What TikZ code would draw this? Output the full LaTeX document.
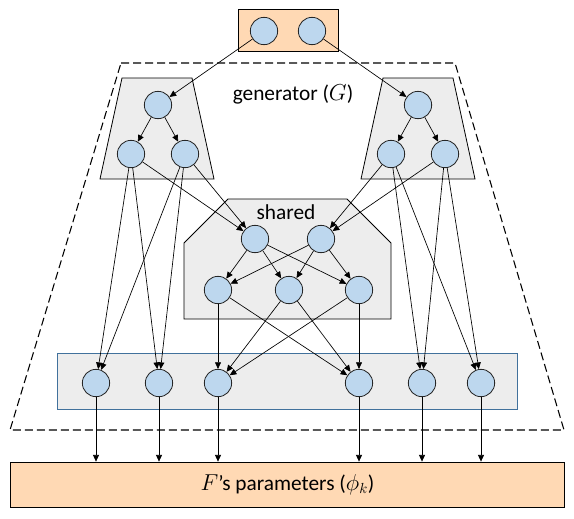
\documentclass[tikz,border=0pt]{standalone}
\usepackage{fontspec}
\setmainfont{Carlito}
\usetikzlibrary{arrows.meta}
\definecolor{unitblue}{HTML}{BDD7EE}
\definecolor{groupgray}{HTML}{EDEDED}
\definecolor{peach}{HTML}{FFD9B4}
\definecolor{frameblue}{HTML}{41719C}

\begin{document}
\begin{tikzpicture}[x=0.75pt, y=-0.75pt,
  unit/.style={circle, draw=black!85, fill=unitblue, minimum size=20.5pt,
               inner sep=0pt, line width=0.6pt},
  grp/.style={draw=black, fill=groupgray, line width=0.6pt},
  arr/.style={-{Triangle[length=5pt,width=4.5pt]}, line width=0.5pt},
  lbl/.style={font=\fontsize{16}{19}\selectfont}
]
  \useasboundingbox (0,0) rectangle (574,518);

  % Outer dashed generator frame
  \draw[draw=black, line width=0.8pt, dash pattern=on 6pt off 3pt]
    (121,63) -- (455,63) -- (564,430) -- (10,430) -- cycle;
  \node[lbl] (genlbl) at (293,94) {generator ($G$)};

  % Input box
  \draw[fill=peach, line width=0.6pt] (238,9) rectangle (338,51);
  \node[unit] (in1) at (264,31) {};
  \node[unit] (in2) at (312,31) {};

  % Two private branches
  \draw[grp] (122,78) -- (192,78) -- (214,179) -- (100,179) -- cycle;
  \draw[grp] (383,78) -- (453,78) -- (475,179) -- (361,179) -- cycle;
  \node[unit] (gl0) at (158,105) {};
  \node[unit] (gl1) at (131,154) {};
  \node[unit] (gl2) at (185,154) {};
  \node[unit] (gr0) at (418,105) {};
  \node[unit] (gr1) at (391,154) {};
  \node[unit] (gr2) at (445,154) {};

  % Shared part
  \draw[grp] (228,199) -- (347,199) -- (391,243) -- (391,319)
    -- (184,319) -- (184,243) -- cycle;
  \node[lbl] (shlbl) at (286,212) {shared};
  \node[unit] (sh1) at (255,239) {};
  \node[unit] (sh2) at (321,239) {};
  \node[unit] (sh3) at (218,290) {};
  \node[unit] (sh4) at (289,290) {};
  \node[unit] (sh5) at (359,290) {};

  % Output layer
  \draw[fill=groupgray, draw=frameblue, line width=0.6pt] (57,353) rectangle (517,409);
  \foreach[count=\i] \x in {96,159,218,359,422,481}
    \node[unit] (out\i) at (\x,383) {};

  % Parameters of F
  \node[draw, fill=peach, line width=0.6pt, minimum width=416pt,
        minimum height=33.75pt, lbl] (params) at (287.5,484.5)
    {$F$’s parameters ($\phi_k$)};

  % Connections
  \foreach \a/\b in {in1/gl0, in2/gr0, gl0/gl1, gl0/gl2, gr0/gr1, gr0/gr2,
                     gl1/sh1, gl2/sh1, gr1/sh2, gr2/sh2,
                     gl1/out1, gl1/out2, gl2/out1, gl2/out2,
                     gr1/out5, gr1/out6, gr2/out5, gr2/out6}
    \draw[arr] (\a) -- (\b);
  \foreach \a in {sh1,sh2}
    \foreach \b in {sh3,sh4,sh5}
      \draw[arr] (\a) -- (\b);
  \foreach \a in {sh3,sh4,sh5}
    \foreach \b in {out3,out4}
      \draw[arr] (\a) -- (\b);
  \foreach \i in {1,...,6}
    \draw[arr] (out\i) -- (out\i |- params.north);
\end{tikzpicture}
\end{document}
